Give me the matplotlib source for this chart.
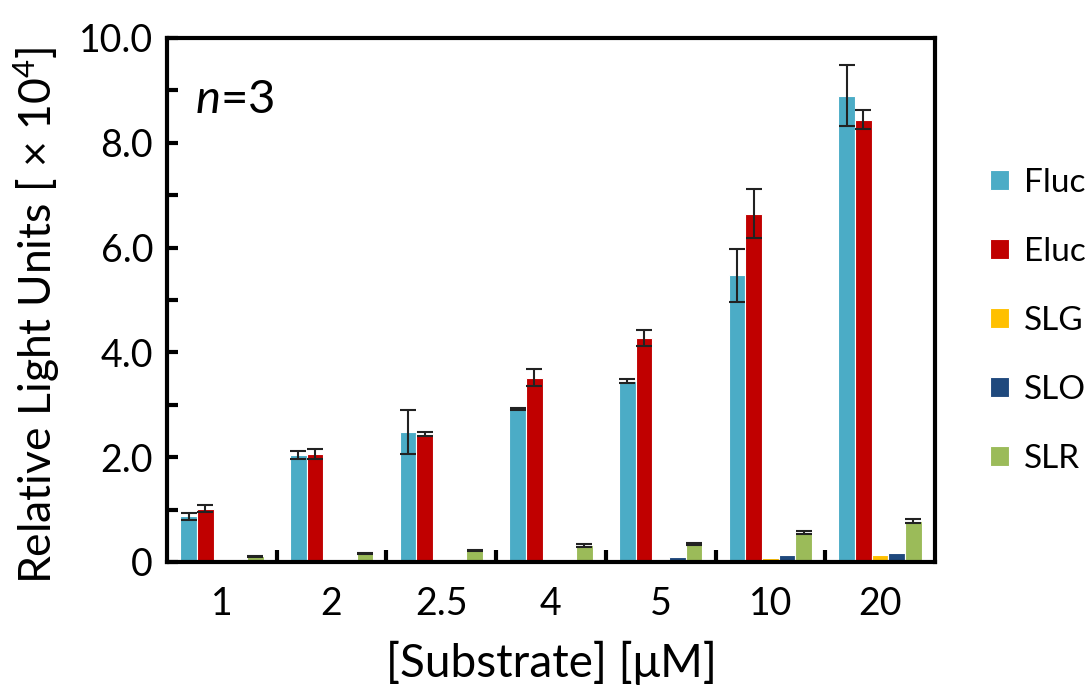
import matplotlib.pyplot as plt
import numpy as np
from matplotlib.ticker import MultipleLocator, FixedLocator

# luminescence per substrate concentration, x 10^4 RLU
concs = ["1", "2", "2.5", "4", "5", "10", "20"]
names = ["Fluc", "Eluc", "SLG", "SLO", "SLR"]
colors = ["#4BACC6", "#C00000", "#FFC000", "#1F497D", "#9BBB59"]

fluc = [0.87, 2.04, 2.49, 2.92, 3.46, 5.47, 8.90]
eluc = [1.02, 2.06, 2.44, 3.52, 4.28, 6.65, 8.44]
slg = [0.005, 0.005, 0.005, 0.01, 0.03, 0.07, 0.13]
slo = [0.005, 0.005, 0.01, 0.01, 0.10, 0.13, 0.18]
slr = [0.11, 0.17, 0.22, 0.32, 0.35, 0.57, 0.78]

fluc_err = [0.06, 0.08, 0.42, 0.01, 0.04, 0.50, 0.58]
eluc_err = [0.06, 0.09, 0.04, 0.16, 0.15, 0.47, 0.18]
slg_err = [0, 0, 0, 0, 0, 0, 0]
slo_err = [0, 0, 0, 0, 0, 0, 0]
slr_err = [0.01, 0.01, 0.01, 0.03, 0.02, 0.03, 0.04]

series = [fluc, eluc, slg, slo, slr]
errs = [fluc_err, eluc_err, slg_err, slo_err, slr_err]

plt.rcParams['font.family'] = ['Lato', 'DejaVu Sans']
plt.rcParams['mathtext.fontset'] = 'custom'
plt.rcParams['mathtext.rm'] = 'Lato'
plt.rcParams['mathtext.it'] = 'Lato:italic'

fig = plt.figure(figsize=(10.9, 6.91), dpi=100)
ax = fig.add_axes([167/1090, 1-562/691, (935-167)/1090, (562-38)/691])

x = np.arange(len(concs))
w = 0.152
for i in range(5):
    pos = x + (i - 2) * w
    ax.bar(pos, series[i], w, color=colors[i], edgecolor="white", linewidth=0.8,
           label=names[i], zorder=2)
    e = np.array(errs[i])
    m = e > 0
    ax.errorbar(pos[m], np.array(series[i])[m], yerr=e[m], fmt="none",
                ecolor="#222222", elinewidth=1.5, capsize=6, capthick=1.5, zorder=3)

ax.set_xlim(-0.5, len(concs) - 0.5)
ax.set_ylim(0, 10)
ax.set_xticks(x)
ax.set_xticklabels(concs, fontsize=27)
ax.xaxis.set_minor_locator(FixedLocator(np.arange(0.5, len(concs) - 1, 1)))
ax.yaxis.set_minor_locator(MultipleLocator(1))
ax.set_yticks(np.arange(0, 11, 2))
ax.set_yticklabels(["0", "2.0", "4.0", "6.0", "8.0", "10.0"], fontsize=27)

ax.tick_params(axis="x", which="major", length=0, pad=17)
ax.tick_params(axis="x", which="minor", direction="in", length=9, width=3)
ax.tick_params(axis="y", which="both", direction="in", length=8, width=3, pad=10)

for s in ax.spines.values():
    s.set_linewidth(3)

ax.set_xlabel("[Substrate] [μM]", fontsize=33, labelpad=14)
ax.set_ylabel("Relative Light Units [ × 10$^4$]", fontsize=32, labelpad=12, y=0.47)
ax.text(0.036, 0.882, "$n$=3", transform=ax.transAxes, fontsize=34, va="center")

ax.legend(loc="center left", bbox_to_anchor=(1.033, 0.46), frameon=False,
          fontsize=24, handlelength=0.55, handleheight=0.55, handletextpad=0.45,
          labelspacing=1.17)

fig.savefig("out.png", dpi=100)
